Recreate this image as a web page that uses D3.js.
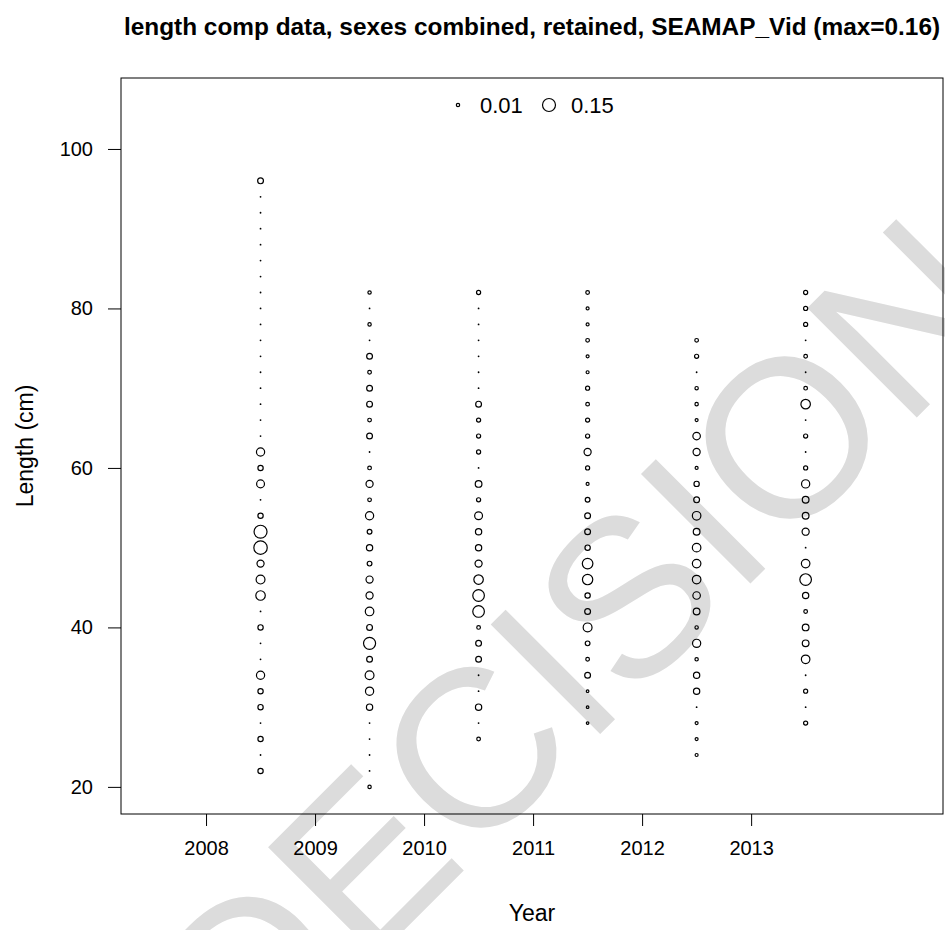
<!DOCTYPE html>
<html>
<head>
<meta charset="utf-8">
<script src="https://cdn.jsdelivr.net/npm/d3@7"></script>
<style>
	body { margin: 0; background: white; }
	svg { display: block; font-family: 'Liberation Sans', Arial, sans-serif; }
</style>
</head>
<body>
<div id="app"></div>
<script>
// length bins (cm), one entry per row of bubbles
const lengthBins = [20, 22, 24, 26, 28, 30, 32, 34, 36, 38, 40, 42, 44, 46, 48, 50, 52, 54, 56, 58,
	60, 62, 64, 66, 68, 70, 72, 74, 76, 78, 80, 82, 84, 86, 88, 90, 92, 94, 96]

// bubble columns are drawn at year + 0.5
const years = [2008, 2009, 2010, 2011, 2012, 2013]
const yearTicks = [2008, 2009, 2010, 2011, 2012, 2013]
const lengthTicks = [20, 40, 60, 80, 100]

// proportions per bin (null = no observation, 0 = zero drawn as a dot)
const comp2008 = [null, 0.025, 0, 0.025, 0, 0.025, 0.025, 0.06, 0, 0, 0.025, 0, 0.08, 0.07, 0.045, 0.16, 0.15, 0.025, 0, 0.055,
	0.025, 0.06, 0, 0, 0, 0, 0, 0, 0, 0, 0, 0, 0, 0, 0, 0, 0, 0, 0.03]
const comp2009 = [0.01, 0, 0, 0, 0, 0.035, 0.06, 0.07, 0.03, 0.13, 0.03, 0.065, 0.045, 0.045, 0.02, 0.035, 0.02, 0.06, 0.012, 0.045,
	0.012, 0, 0.03, 0.012, 0.03, 0.03, 0.012, 0.03, 0, 0.01, 0, 0.01, null, null, null, null, null, null, null]
const comp2010 = [null, null, null, 0.012, 0, 0.035, 0, 0, 0.03, 0.03, 0.012, 0.12, 0.12, 0.08, 0.045, 0.035, 0.035, 0.055, 0.015, 0.04,
	0, 0.015, 0.015, 0.015, 0.03, 0, 0, 0, 0, 0, 0, 0.015, null, null, null, null, null, null, null]
const comp2011 = [null, null, null, null, 0.006, 0.006, 0.006, 0.03, 0.012, 0.02, 0.07, 0.03, 0.025, 0.095, 0.1, 0.025, 0.03, 0.03, 0.02, 0.008,
	0.015, 0.045, 0.015, 0.015, 0.012, 0.015, 0.008, 0.008, 0.012, 0.008, 0.008, 0.012, null, null, null, null, null, null, null]
const comp2012 = [null, null, 0.008, 0.008, 0.008, 0, 0.035, 0.035, 0.01, 0.06, 0.01, 0.04, 0.05, 0.065, 0.065, 0.065, 0.04, 0.065, 0.03, 0.025,
	0.008, 0.045, 0.05, 0.008, 0.01, 0.01, 0, 0.015, 0.012, null, null, null, null, null, null, null, null, null, null]
const comp2013 = [null, null, null, null, 0.015, 0, 0.015, 0, 0.065, 0.04, 0.04, 0.012, 0.035, 0.12, 0.065, 0, 0.045, 0.04, 0.04, 0.06,
	0.015, 0, 0.015, 0, 0.08, 0.012, 0, 0.012, 0, 0.015, 0.015, 0.015, null, null, null, null, null, null, null]

const comps = [comp2008, comp2009, comp2010, comp2011, comp2012, comp2013]
const legendValues = [0.01, 0.15]
const maxComp = 0.16

const app = d3.select('#app')

const width = 945
const height = 930
let margin = { top: 78, right: 2, bottom: 116, left: 121 }
let plotWidth = width - margin.left - margin.right
let plotHeight = height - margin.top - margin.bottom

const svg = app.append('svg').attr('width', width).attr('height', height)

// watermark behind everything
svg.append('text')
	.attr('transform', 'translate(592, 658) rotate(-45)')
	.attr('text-anchor', 'middle')
	.attr('dominant-baseline', 'middle')
	.attr('font-size', 225)
	.attr('fill', '#dcdcdc')
	.text('DECISION')

const g = svg.append('g').attr('transform', `translate(${margin.left}, ${margin.top})`)

// scales
let xScale = d3.scaleLinear().domain([2007.22, 2014.76]).range([0, plotWidth])
let yScale = d3.scaleLinear().domain([16.6, 108.9]).range([plotHeight, 0])
let rScale = d3.scaleSqrt().domain([0, maxComp]).range([0, 6.7])

// axes
let xAxis = d3.axisBottom(xScale).tickValues(yearTicks).tickFormat(d3.format('d')).tickSize(12).tickSizeOuter(0)
let xg = g.append('g').attr('transform', `translate(0, ${plotHeight})`).call(xAxis)
xg.select('.domain').remove()
xg.selectAll('text').attr('font-size', 20).attr('font-family', null).attr('dy', '1.3em')

let yAxis = d3.axisLeft(yScale).tickValues(lengthTicks).tickSize(13).tickSizeOuter(0)
let yg = g.append('g').call(yAxis)
yg.select('.domain').remove()
yg.selectAll('text').attr('font-size', 20).attr('font-family', null).attr('x', -28)

// plot box
g.append('rect')
	.attr('width', plotWidth)
	.attr('height', plotHeight)
	.attr('fill', 'none')
	.attr('stroke', 'black')

// bubbles
years.forEach((yr, j) => {
	let pts = comps[j]
		.map((p, i) => ({ len: lengthBins[i], p: p }))
		.filter((d) => d.p !== null)

	g.selectAll(`circle.y${yr}`)
		.data(pts)
		.enter()
		.append('circle')
		.attr('class', `y${yr}`)
		.attr('cx', xScale(yr + 0.5))
		.attr('cy', (d) => yScale(d.len))
		.attr('r', (d) => (d.p === 0 ? 0.9 : rScale(d.p)))
		.attr('fill', (d) => (d.p === 0 ? 'black' : 'none'))
		.attr('stroke', (d) => (d.p === 0 ? 'none' : 'black'))
		.attr('stroke-width', 1.2)
})

// legend at the top of the plot
let legendX = [337, 428]
legendValues.forEach((v, i) => {
	g.append('circle')
		.attr('cx', legendX[i])
		.attr('cy', 27)
		.attr('r', rScale(v))
		.attr('fill', 'none')
		.attr('stroke', 'black')
		.attr('stroke-width', 1.2)
	g.append('text')
		.attr('x', legendX[i] + 22)
		.attr('y', 27)
		.attr('dy', '0.35em')
		.attr('font-size', 22)
		.text(d3.format('.2f')(v))
})

// title
svg.append('text')
	.attr('x', margin.left + plotWidth / 2)
	.attr('y', 35)
	.attr('text-anchor', 'middle')
	.attr('font-size', 24.4)
	.attr('font-weight', 'bold')
	.text('length comp data, sexes combined, retained, SEAMAP_Vid (max=0.16)')

// axis labels
svg.append('text')
	.attr('x', margin.left + plotWidth / 2)
	.attr('y', 921)
	.attr('text-anchor', 'middle')
	.attr('font-size', 23)
	.text('Year')

svg.append('text')
	.attr('transform', `translate(33, ${margin.top + plotHeight / 2}) rotate(-90)`)
	.attr('text-anchor', 'middle')
	.attr('font-size', 23)
	.text('Length (cm)')
</script>
</body>
</html>
